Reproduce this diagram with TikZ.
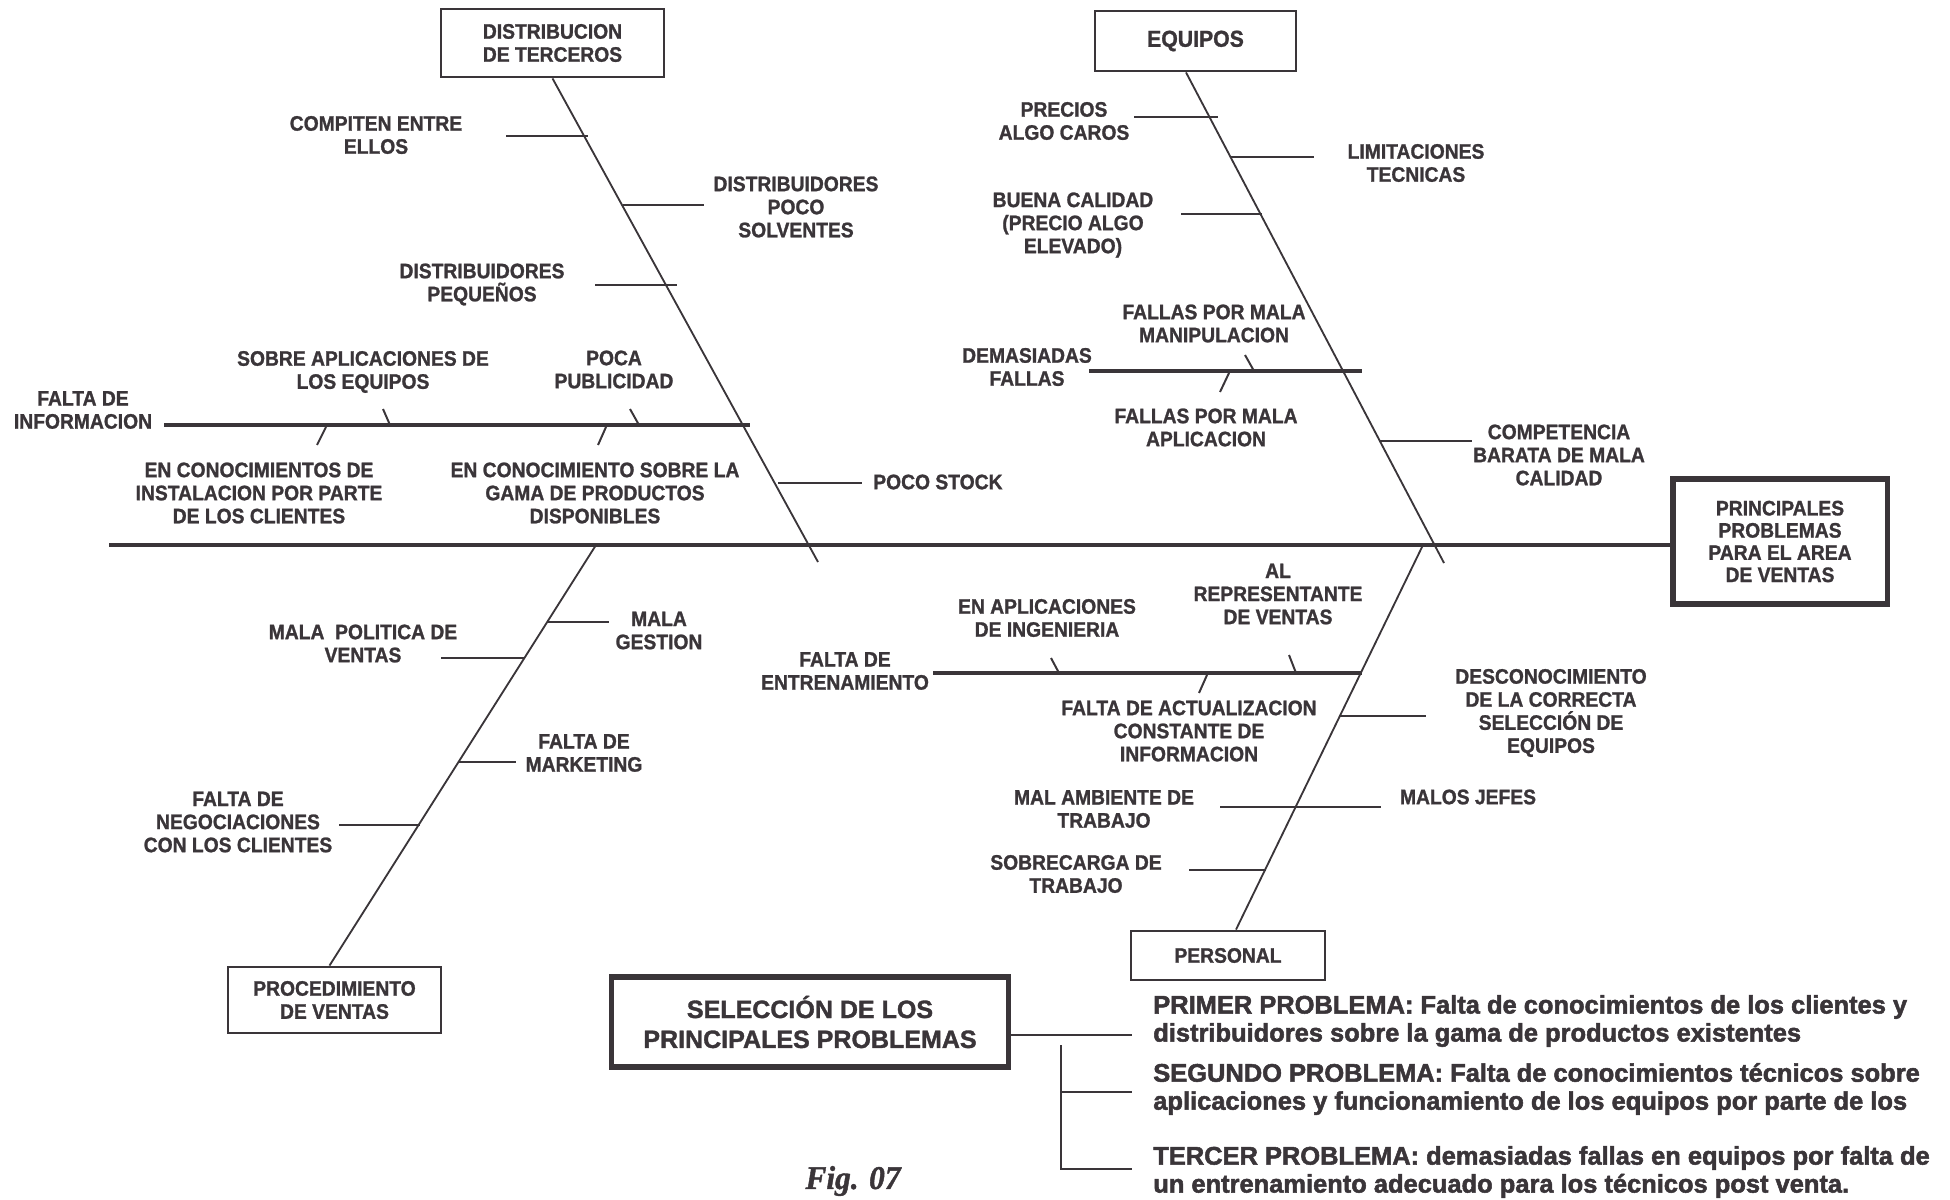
\documentclass[tikz,border=0pt]{standalone}
\usepackage{fontspec}
\setmainfont{Liberation Sans}
\newfontfamily\narrowsans{Liberation Sans}[UprightFont={* Bold}, FakeStretch=0.92, FakeBold=1.2]
\newfontfamily\heavysans{Liberation Sans}[UprightFont={* Bold}, FakeBold=2]
\newfontfamily\boxsans{Liberation Sans}[UprightFont={* Bold}, FakeBold=1.4]
\newfontfamily\serifface{Liberation Serif}[UprightFont={* Bold Italic}, FakeStretch=0.95, FakeBold=1.2]
\usetikzlibrary{calc}
\definecolor{ink}{RGB}{58,53,57}

\begin{document}
\begin{tikzpicture}[x=0.025cm,y=-0.025cm,
  lbl/.style={text=ink, font=\narrowsans\fontsize{14.9pt}{16.4pt}\selectfont, align=center, inner sep=0pt},
  catbox/.style={draw=ink, line width=2pt, fill=white, inner sep=0pt, align=center, text=ink,
                 font=\narrowsans\fontsize{14.9pt}{16.4pt}\selectfont},
  bigbox/.style={catbox, line width=3.6pt},
  bone/.style={draw=ink, line width=1.3pt},
  spine/.style={draw=ink, line width=2.2pt},
  tick/.style={draw=ink, line width=2pt},
  branch/.style={draw=ink, line width=2.6pt},
  twig/.style={draw=ink, line width=1.4pt},
  problem/.style={text=ink, font=\heavysans\fontsize{18.1pt}{19.9pt}\selectfont, align=left, inner sep=0pt, anchor=west},
]
\useasboundingbox[fill=white] (0,0) rectangle (1950,1200);

% ---------- category boxes ----------
\node[catbox, minimum width=5.575cm, minimum height=1.7cm] (dist) at (552.5,43) {DISTRIBUCION\\DE TERCEROS};
\node[catbox, minimum width=5.025cm, minimum height=1.5cm,
      font=\narrowsans\fontsize{16.4pt}{18pt}\selectfont] (equipos) at (1195.5,41) {EQUIPOS};
\node[bigbox, minimum width=5.35cm, minimum height=3.125cm,
      font=\narrowsans\fontsize{14.9pt}{15.8pt}\selectfont] (head) at (1780,541.5) {PRINCIPALES\\PROBLEMAS\\PARA EL AREA\\DE VENTAS};
\node[catbox, minimum width=5.325cm, minimum height=1.65cm] (proc) at (334.5,1000) {PROCEDIMIENTO\\DE VENTAS};
\node[catbox, minimum width=4.85cm, minimum height=1.225cm] (personal) at (1228,955.5) {PERSONAL};
\node[bigbox, minimum width=9.9cm, minimum height=2.25cm,
      font=\boxsans\fontsize{17.8pt}{21.3pt}\selectfont] (sel) at (810,1022) {SELECCIÓN DE LOS\\PRINCIPALES PROBLEMAS};

% ---------- spine and main bones ----------
\coordinate (tail) at (109,545);
\draw[spine] (tail) -- (tail -| head.west);

\coordinate (b1end) at (818,562);
\draw[bone] (dist.south) -- (b1end);

\coordinate (b2start) at ($(equipos.south)+(-9.5,0)$);
\coordinate (b2end) at (1444,563);
\draw[bone] (b2start) -- (b2end);

\coordinate (b3top) at (596,545);
\draw[bone] (b3top) -- ($(proc.north)+(-5,0)$);

\coordinate (b4top) at (1423,545);
\draw[bone] (b4top) -- ($(personal.north)+(8,0)$);

% ---------- DISTRIBUCION DE TERCEROS ----------
\draw[tick] (506,136) -- (588,136);
\draw[tick] (623,205) -- (704,205);
\draw[tick] (595,285) -- (677,285);
\draw[branch] (164,425) -- (750,425);
\draw[twig] (383,409) -- (390,425);
\draw[twig] (630,409) -- (639,425);
\draw[twig] (326,427) -- (317,445);
\draw[twig] (606,427) -- (598,445);
\draw[tick] (778,483) -- (862,483);

\node[lbl] (l1) at (376,135) {COMPITEN ENTRE\\ELLOS};
\node[lbl] (l2) at (796,207) {DISTRIBUIDORES\\POCO\\SOLVENTES};
\node[lbl] (l3) at (482,284.5) {DISTRIBUIDORES\\PEQUEÑOS};
\node[lbl] (l4) at (83,410) {FALTA DE\\INFORMACION};
\node[lbl] (l5) at (363,372) {SOBRE APLICACIONES DE\\LOS EQUIPOS};
\node[lbl] (l6) at (614,369.5) {POCA\\PUBLICIDAD};
\node[lbl] (l7) at (259,493) {EN CONOCIMIENTOS DE\\INSTALACION POR PARTE\\DE LOS CLIENTES};
\node[lbl] (l8) at (595,493) {EN CONOCIMIENTO SOBRE LA\\GAMA DE PRODUCTOS\\DISPONIBLES};
\node[lbl, anchor=west] (l9) at (873,482) {POCO STOCK};

% ---------- EQUIPOS ----------
\draw[tick] (1134,117) -- (1218,117);
\draw[tick] (1231,157) -- (1314,157);
\draw[tick] (1181,214) -- (1262,214);
\draw[branch] (1089,371) -- (1362,371);
\draw[twig] (1245,355) -- (1254,371);
\draw[twig] (1229,373) -- (1220,392);
\draw[tick] (1380,441) -- (1472,441);

\node[lbl] (l10) at (1064,121) {PRECIOS\\ALGO CAROS};
\node[lbl] (l11) at (1416,163) {LIMITACIONES\\TECNICAS};
\node[lbl] (l12) at (1073,225) {BUENA CALIDAD\\(PRECIO ALGO\\ELEVADO)};
\node[lbl] (l13) at (1214,323.5) {FALLAS POR MALA\\MANIPULACION};
\node[lbl] (l14) at (1027,367) {DEMASIADAS\\FALLAS};
\node[lbl] (l15) at (1206,427.5) {FALLAS POR MALA\\APLICACION};
\node[lbl] (l16) at (1559,455) {COMPETENCIA\\BARATA DE MALA\\CALIDAD};

% ---------- PROCEDIMIENTO DE VENTAS ----------
\draw[tick] (548,622) -- (609,622);
\draw[tick] (441,658) -- (525,658);
\draw[tick] (459,762) -- (516,762);
\draw[tick] (339,825) -- (420,825);

\node[lbl] (l17) at (363,643.5) {MALA \ POLITICA DE\\VENTAS};
\node[lbl] (l18) at (659,630.5) {MALA\\GESTION};
\node[lbl] (l19) at (584,753) {FALTA DE\\MARKETING};
\node[lbl] (l20) at (238,822) {FALTA DE\\NEGOCIACIONES\\CON LOS CLIENTES};

% ---------- PERSONAL ----------
\draw[branch] (933,673) -- (1362,673);
\draw[twig] (1051,658) -- (1059,673);
\draw[twig] (1289,655) -- (1296,673);
\draw[twig] (1207,675) -- (1199,693);
\draw[tick] (1340,716) -- (1426,716);
\draw[tick] (1220,807) -- (1381,807);
\draw[tick] (1189,870) -- (1266,870);

\node[lbl] (l21) at (845,671) {FALTA DE\\ENTRENAMIENTO};
\node[lbl] (l22) at (1047,618) {EN APLICACIONES\\DE INGENIERIA};
\node[lbl] (l23) at (1278,594) {AL\\REPRESENTANTE\\DE VENTAS};
\node[lbl] (l24) at (1189,731) {FALTA DE ACTUALIZACION\\CONSTANTE DE\\INFORMACION};
\node[lbl] (l25) at (1551,713) {DESCONOCIMIENTO\\DE LA CORRECTA\\SELECCIÓN DE\\EQUIPOS};
\node[lbl] (l26) at (1104,809) {MAL AMBIENTE DE\\TRABAJO};
\node[lbl] (l27) at (1468,797) {MALOS JEFES};
\node[lbl] (l28) at (1076,874) {SOBRECARGA DE\\TRABAJO};

% ---------- selected problems ----------
\node[problem] (p1) at (1153,1021) {PRIMER PROBLEMA: Falta de conocimientos de los clientes y\\distribuidores sobre la gama de productos existentes};
\node[problem] (p2) at (1153,1089) {SEGUNDO PROBLEMA: Falta de conocimientos técnicos sobre\\aplicaciones y funcionamiento de los equipos por parte de los};
\node[problem] (p3) at (1153,1172) {TERCER PROBLEMA: demasiadas fallas en equipos por falta de\\un entrenamiento adecuado para los técnicos post venta.};

\coordinate (j1) at (1132,1035);
\coordinate (jv) at (1061,1045);
\coordinate (j2) at (1132,1092);
\coordinate (j3) at (1132,1169);
\draw[twig] (sel.east |- j1) -- (j1);
\draw[twig] (jv) -- (jv |- j3) -- (j3);
\draw[twig] (jv |- j2) -- (j2);

\node[text=ink, inner sep=0pt, font=\serifface\fontsize{23.5pt}{26pt}\selectfont] (fig) at (853,1181) {Fig. 07};

\end{tikzpicture}
\end{document}
